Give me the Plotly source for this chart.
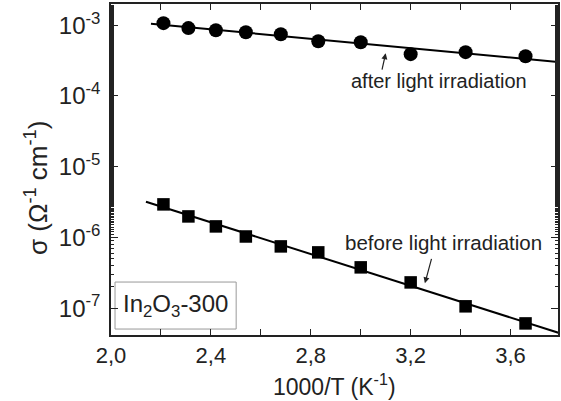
import numpy as np
import plotly.graph_objects as go

# Data
inv_T = [2.21, 2.31, 2.42, 2.54, 2.68, 2.83, 3.00, 3.20, 3.42, 3.66]
sigma_after = [1.07e-3, 9.1e-4, 8.5e-4, 7.96e-4, 7.46e-4, 5.94e-4, 5.75e-4, 3.9e-4, 4.16e-4, 3.64e-4]
sigma_before = [2.93e-6, 1.98e-6, 1.43e-6, 1.03e-6, 7.46e-7, 6.14e-7, 3.77e-7, 2.31e-7, 1.06e-7, 6.08e-8]
fit_x_after = [2.16, 3.80]
fit_x_before = [2.14, 3.80]
x_ticks = [2.0, 2.4, 2.8, 3.2, 3.6]
y_ticks = [1e-7, 1e-6, 1e-5, 1e-4, 1e-3]
y_ticktext = ["10<sup>-7</sup>", "10<sup>-6</sup>", "10<sup>-5</sup>", "10<sup>-4</sup>", "10<sup>-3</sup>"]

FONT = "Liberation Sans"

def fit_line(x, y, xs):
    p = np.polyfit(np.array(x), np.log10(np.array(y)), 1)
    xs = np.array(xs)
    return xs, 10 ** np.polyval(p, xs)

fig = go.Figure()
fx, fy = fit_line(inv_T, sigma_after, fit_x_after)
fig.add_trace(go.Scatter(x=fx, y=fy, mode="lines", line=dict(color="black", width=2)))
fx, fy = fit_line(inv_T, sigma_before, fit_x_before)
fig.add_trace(go.Scatter(x=fx, y=fy, mode="lines", line=dict(color="black", width=2)))
fig.add_trace(go.Scatter(x=inv_T, y=sigma_after, mode="markers",
                         marker=dict(symbol="circle", size=14, color="black")))
fig.add_trace(go.Scatter(x=inv_T, y=sigma_before, mode="markers",
                         marker=dict(symbol="square", size=12.5, color="black")))

fig.update_layout(
    width=561, height=401,
    margin=dict(l=111, r=1, t=4, b=66),
    paper_bgcolor="white", plot_bgcolor="white",
    showlegend=False,
    separators=", ",
    font=dict(family=FONT, color="#222222", size=22),
)
fig.update_xaxes(
    range=[2.0, 3.79], tickvals=x_ticks, tickformat=".1f",
    ticks="inside", ticklen=6, tickwidth=1, tickcolor="#222",
    minor=dict(ticks="inside", ticklen=6, dtick=0.2, tick0=2.0, tickcolor="#222"),
    showline=True, linecolor="#222", linewidth=1.5, mirror="allticks",
    showgrid=False, zeroline=False,
    tickfont=dict(size=22, family=FONT, color="#222"),
)
fig.update_yaxes(
    type="log", range=[-7.38, -2.70], tickvals=y_ticks, ticktext=y_ticktext,
    ticks="inside", ticklen=7, tickwidth=1, tickcolor="#222",
    minor=dict(ticks="inside", ticklen=3, tickcolor="#222"),
    showline=True, linecolor="#222", linewidth=1.5, mirror="allticks",
    showgrid=False, zeroline=False,
    tickfont=dict(size=24, family=FONT, color="#222"),
    ticklabelstandoff=4,
)

ann = [
    dict(text="1000/T (K<sup>-1</sup>)", xref="paper", yref="paper", x=0.5, y=-0.15,
         showarrow=False, font=dict(size=23), xanchor="center", yanchor="middle"),
    dict(text="σ (Ω<sup>-1</sup> cm<sup>-1</sup>)", xref="paper", yref="paper", x=-0.168, y=0.444,
         showarrow=False, textangle=-90, font=dict(size=26), xanchor="center", yanchor="middle"),
    dict(text="after light irradiation", x=3.312, y=-3.79, showarrow=False, font=dict(size=20),
         xanchor="center", yanchor="middle"),
    dict(text="", x=3.10, y=-3.396, ax=-4, ay=18, showarrow=True, arrowhead=2,
         arrowsize=1, arrowwidth=1.2, arrowcolor="#222"),
    dict(text="before light irradiation", x=3.333, y=-6.07, showarrow=False, font=dict(size=20.5),
         xanchor="center", yanchor="middle"),
    dict(text="", x=3.257, y=-6.65, ax=7, ay=-26, showarrow=True, arrowhead=2,
         arrowsize=1, arrowwidth=1.2, arrowcolor="#222"),
    dict(text="In<sub>2</sub>O<sub>3</sub>-300", xref="paper", yref="paper", x=0.144, y=0.088,
         showarrow=False, font=dict(size=24), xanchor="center", yanchor="middle"),
]
fig.update_layout(annotations=ann)
fig.add_shape(type="rect", xref="paper", yref="paper", x0=0.009, x1=0.28, y0=0.018, y1=0.16,
              line=dict(color="#999", width=1), fillcolor="white", layer="below")

fig.write_html("out.html")
